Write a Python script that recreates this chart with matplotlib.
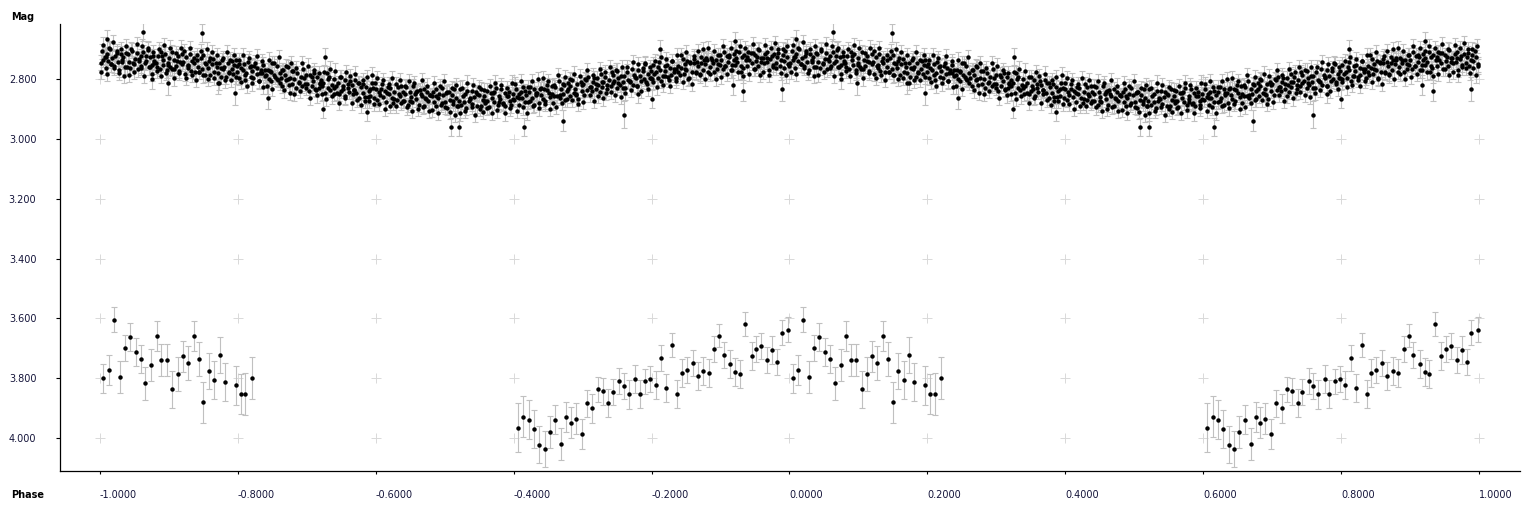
import numpy as np
import matplotlib.pyplot as plt

# bright, well sampled photometry (phase 0..1), drawn at phase and phase-1
band_phase = [
    0.001, 0.003, 0.005, 0.007, 0.008, 0.010, 0.012, 0.014, 0.016, 0.018, 0.021, 0.022, 0.024, 0.026, 0.028, 0.030, 0.032, 0.034, 0.036, 0.038,
    0.040, 0.042, 0.044, 0.046, 0.049, 0.051, 0.053, 0.055, 0.057, 0.059, 0.060, 0.063, 0.065, 0.067, 0.069, 0.071, 0.073, 0.075, 0.077, 0.079,
    0.081, 0.082, 0.084, 0.087, 0.089, 0.091, 0.092, 0.094, 0.097, 0.099, 0.100, 0.102, 0.105, 0.107, 0.108, 0.110, 0.113, 0.115, 0.116, 0.119,
    0.121, 0.123, 0.125, 0.127, 0.128, 0.130, 0.132, 0.134, 0.136, 0.138, 0.141, 0.142, 0.144, 0.146, 0.148, 0.150, 0.152, 0.154, 0.156, 0.158,
    0.160, 0.162, 0.164, 0.166, 0.169, 0.171, 0.173, 0.175, 0.177, 0.179, 0.180, 0.183, 0.185, 0.187, 0.189, 0.191, 0.193, 0.195, 0.197, 0.199,
    0.201, 0.202, 0.204, 0.207, 0.209, 0.211, 0.212, 0.214, 0.217, 0.219, 0.220, 0.222, 0.225, 0.227, 0.228, 0.230, 0.233, 0.235, 0.236, 0.239,
    0.241, 0.243, 0.245, 0.247, 0.248, 0.250, 0.252, 0.254, 0.256, 0.258, 0.261, 0.262, 0.264, 0.266, 0.268, 0.270, 0.272, 0.274, 0.276, 0.278,
    0.280, 0.282, 0.284, 0.286, 0.289, 0.291, 0.293, 0.295, 0.297, 0.299, 0.300, 0.303, 0.305, 0.307, 0.309, 0.311, 0.313, 0.315, 0.317, 0.319,
    0.321, 0.322, 0.324, 0.327, 0.329, 0.331, 0.332, 0.334, 0.337, 0.339, 0.340, 0.342, 0.345, 0.347, 0.348, 0.350, 0.353, 0.355, 0.356, 0.359,
    0.361, 0.363, 0.365, 0.367, 0.368, 0.370, 0.372, 0.374, 0.376, 0.378, 0.381, 0.382, 0.384, 0.386, 0.388, 0.390, 0.392, 0.394, 0.396, 0.398,
    0.400, 0.402, 0.404, 0.406, 0.409, 0.411, 0.413, 0.415, 0.417, 0.419, 0.420, 0.423, 0.425, 0.427, 0.429, 0.431, 0.433, 0.435, 0.437, 0.439,
    0.441, 0.442, 0.444, 0.447, 0.449, 0.451, 0.452, 0.454, 0.457, 0.459, 0.460, 0.462, 0.465, 0.467, 0.468, 0.470, 0.473, 0.475, 0.476, 0.479,
    0.481, 0.483, 0.485, 0.487, 0.488, 0.490, 0.492, 0.494, 0.496, 0.498, 0.501, 0.502, 0.504, 0.506, 0.508, 0.510, 0.512, 0.514, 0.516, 0.518,
    0.520, 0.522, 0.524, 0.526, 0.529, 0.531, 0.533, 0.535, 0.537, 0.539, 0.540, 0.543, 0.545, 0.547, 0.549, 0.551, 0.553, 0.555, 0.557, 0.559,
    0.561, 0.562, 0.564, 0.567, 0.569, 0.571, 0.572, 0.574, 0.577, 0.579, 0.580, 0.582, 0.585, 0.587, 0.588, 0.590, 0.593, 0.595, 0.596, 0.599,
    0.601, 0.603, 0.605, 0.607, 0.608, 0.610, 0.612, 0.614, 0.616, 0.618, 0.621, 0.622, 0.624, 0.626, 0.628, 0.630, 0.632, 0.634, 0.636, 0.638,
    0.640, 0.642, 0.644, 0.646, 0.649, 0.651, 0.653, 0.655, 0.657, 0.659, 0.660, 0.663, 0.665, 0.667, 0.669, 0.671, 0.673, 0.675, 0.677, 0.679,
    0.681, 0.682, 0.684, 0.687, 0.689, 0.691, 0.692, 0.694, 0.697, 0.699, 0.700, 0.702, 0.705, 0.707, 0.708, 0.710, 0.713, 0.715, 0.716, 0.719,
    0.721, 0.723, 0.725, 0.727, 0.728, 0.730, 0.732, 0.734, 0.736, 0.738, 0.741, 0.742, 0.744, 0.746, 0.748, 0.750, 0.752, 0.754, 0.756, 0.758,
    0.760, 0.762, 0.764, 0.766, 0.769, 0.771, 0.773, 0.775, 0.777, 0.779, 0.780, 0.783, 0.785, 0.787, 0.789, 0.791, 0.793, 0.795, 0.797, 0.799,
    0.801, 0.802, 0.804, 0.807, 0.809, 0.811, 0.812, 0.814, 0.817, 0.819, 0.820, 0.822, 0.825, 0.827, 0.828, 0.830, 0.833, 0.835, 0.836, 0.839,
    0.841, 0.843, 0.845, 0.847, 0.848, 0.850, 0.852, 0.854, 0.856, 0.858, 0.861, 0.862, 0.864, 0.866, 0.868, 0.870, 0.872, 0.874, 0.876, 0.878,
    0.880, 0.882, 0.884, 0.886, 0.889, 0.891, 0.893, 0.895, 0.897, 0.899, 0.900, 0.903, 0.905, 0.907, 0.909, 0.911, 0.913, 0.915, 0.917, 0.919,
    0.921, 0.922, 0.924, 0.927, 0.929, 0.931, 0.932, 0.934, 0.937, 0.939, 0.940, 0.942, 0.945, 0.947, 0.948, 0.950, 0.953, 0.955, 0.956, 0.959,
    0.961, 0.963, 0.965, 0.967, 0.968, 0.970, 0.972, 0.974, 0.976, 0.978, 0.981, 0.982, 0.984, 0.986, 0.988, 0.990, 0.992, 0.994, 0.996, 0.998,
]
band_mag = [
    2.745, 2.708, 2.736, 2.725, 2.763, 2.718, 2.739, 2.701, 2.751, 2.729, 2.756, 2.723, 2.706, 2.743, 2.769, 2.715, 2.735, 2.728, 2.760, 2.713,
    2.717, 2.742, 2.763, 2.705, 2.749, 2.732, 2.713, 2.768, 2.740, 2.723, 2.756, 2.710, 2.747, 2.739, 2.702, 2.761, 2.728, 2.753, 2.723, 2.741,
    2.745, 2.760, 2.724, 2.767, 2.711, 2.738, 2.753, 2.716, 2.771, 2.748, 2.731, 2.761, 2.711, 2.766, 2.737, 2.755, 2.724, 2.773, 2.743, 2.718,
    2.742, 2.782, 2.728, 2.758, 2.764, 2.718, 2.773, 2.739, 2.748, 2.775, 2.738, 2.759, 2.775, 2.731, 2.767, 2.719, 2.785, 2.750, 2.763, 2.740,
    2.785, 2.751, 2.732, 2.776, 2.761, 2.781, 2.746, 2.794, 2.737, 2.767, 2.759, 2.794, 2.746, 2.778, 2.735, 2.768, 2.783, 2.753, 2.738, 2.775,
    2.749, 2.796, 2.764, 2.771, 2.751, 2.805, 2.779, 2.742, 2.759, 2.792, 2.773, 2.795, 2.745, 2.783, 2.762, 2.807, 2.769, 2.780, 2.752, 2.789,
    2.787, 2.769, 2.799, 2.774, 2.807, 2.748, 2.785, 2.793, 2.756, 2.802, 2.779, 2.796, 2.824, 2.769, 2.788, 2.805, 2.761, 2.819, 2.798, 2.773,
    2.774, 2.799, 2.829, 2.780, 2.811, 2.793, 2.822, 2.767, 2.817, 2.787, 2.817, 2.840, 2.785, 2.822, 2.807, 2.780, 2.836, 2.793, 2.829, 2.814,
    2.802, 2.825, 2.812, 2.847, 2.781, 2.829, 2.793, 2.837, 2.821, 2.800, 2.851, 2.824, 2.815, 2.849, 2.794, 2.840, 2.834, 2.804, 2.858, 2.818,
    2.843, 2.806, 2.821, 2.851, 2.836, 2.803, 2.846, 2.814, 2.862, 2.827, 2.847, 2.817, 2.874, 2.826, 2.861, 2.841, 2.856, 2.812, 2.831, 2.865,
    2.834, 2.871, 2.843, 2.854, 2.816, 2.861, 2.840, 2.878, 2.828, 2.850, 2.829, 2.862, 2.879, 2.842, 2.816, 2.870, 2.850, 2.857, 2.825, 2.872,
    2.874, 2.849, 2.828, 2.886, 2.842, 2.859, 2.878, 2.823, 2.851, 2.868, 2.840, 2.886, 2.849, 2.857, 2.894, 2.835, 2.868, 2.843, 2.873, 2.855,
    2.857, 2.842, 2.878, 2.835, 2.891, 2.864, 2.849, 2.886, 2.831, 2.854, 2.877, 2.847, 2.897, 2.842, 2.871, 2.853, 2.884, 2.835, 2.865, 2.890,
    2.872, 2.832, 2.886, 2.856, 2.850, 2.896, 2.841, 2.875, 2.866, 2.839, 2.882, 2.861, 2.845, 2.889, 2.853, 2.901, 2.835, 2.870, 2.857, 2.880,
    2.839, 2.873, 2.892, 2.848, 2.863, 2.843, 2.878, 2.830, 2.887, 2.857, 2.867, 2.832, 2.880, 2.848, 2.891, 2.858, 2.843, 2.873, 2.888, 2.851,
    2.870, 2.833, 2.861, 2.850, 2.888, 2.843, 2.864, 2.826, 2.876, 2.854, 2.876, 2.843, 2.826, 2.863, 2.889, 2.835, 2.855, 2.848, 2.880, 2.833,
    2.853, 2.868, 2.832, 2.875, 2.819, 2.846, 2.861, 2.824, 2.879, 2.856, 2.827, 2.857, 2.807, 2.862, 2.833, 2.851, 2.820, 2.869, 2.839, 2.814,
    2.857, 2.823, 2.804, 2.848, 2.833, 2.853, 2.818, 2.866, 2.809, 2.839, 2.817, 2.852, 2.804, 2.836, 2.793, 2.826, 2.841, 2.811, 2.796, 2.833,
    2.796, 2.821, 2.842, 2.784, 2.828, 2.811, 2.792, 2.847, 2.819, 2.802, 2.824, 2.778, 2.815, 2.807, 2.770, 2.829, 2.796, 2.821, 2.791, 2.809,
    2.789, 2.829, 2.775, 2.805, 2.811, 2.765, 2.820, 2.786, 2.795, 2.822, 2.770, 2.791, 2.807, 2.763, 2.799, 2.751, 2.817, 2.782, 2.795, 2.772,
    2.799, 2.752, 2.784, 2.777, 2.797, 2.743, 2.769, 2.806, 2.789, 2.756, 2.774, 2.752, 2.802, 2.764, 2.785, 2.740, 2.778, 2.767, 2.795, 2.758,
    2.788, 2.763, 2.733, 2.782, 2.751, 2.769, 2.740, 2.795, 2.745, 2.775, 2.747, 2.724, 2.779, 2.742, 2.757, 2.784, 2.728, 2.771, 2.735, 2.750,
    2.738, 2.775, 2.760, 2.730, 2.745, 2.778, 2.735, 2.767, 2.719, 2.754, 2.736, 2.766, 2.709, 2.757, 2.722, 2.742, 2.727, 2.771, 2.752, 2.718,
    2.754, 2.731, 2.744, 2.709, 2.775, 2.727, 2.763, 2.719, 2.735, 2.756, 2.710, 2.737, 2.746, 2.712, 2.767, 2.721, 2.727, 2.757, 2.703, 2.743,
    2.730, 2.748, 2.718, 2.743, 2.710, 2.769, 2.732, 2.724, 2.761, 2.715, 2.745, 2.728, 2.700, 2.755, 2.736, 2.719, 2.763, 2.705, 2.726, 2.751,
]

# second night of the bright set, a little noisier
band2_phase = [
    0.002, 0.005, 0.008, 0.010, 0.013, 0.016, 0.019, 0.021, 0.024, 0.027, 0.030, 0.032, 0.035, 0.037, 0.039,
    0.042, 0.045, 0.048, 0.050, 0.053, 0.056, 0.059, 0.061, 0.064, 0.067, 0.070, 0.072, 0.075, 0.077, 0.079,
    0.082, 0.085, 0.088, 0.090, 0.093, 0.096, 0.099, 0.101, 0.104, 0.107, 0.110, 0.112, 0.115, 0.117, 0.119,
    0.122, 0.125, 0.128, 0.130, 0.133, 0.136, 0.139, 0.141, 0.144, 0.147, 0.150, 0.152, 0.155, 0.157, 0.159,
    0.162, 0.165, 0.168, 0.170, 0.173, 0.176, 0.179, 0.181, 0.184, 0.187, 0.190, 0.192, 0.195, 0.197, 0.199,
    0.202, 0.205, 0.208, 0.210, 0.213, 0.216, 0.219, 0.221, 0.224, 0.227, 0.230, 0.232, 0.235, 0.237, 0.239,
    0.242, 0.245, 0.248, 0.250, 0.253, 0.256, 0.259, 0.261, 0.264, 0.267, 0.270, 0.272, 0.275, 0.277, 0.279,
    0.282, 0.285, 0.288, 0.290, 0.293, 0.296, 0.299, 0.301, 0.304, 0.307, 0.310, 0.312, 0.315, 0.317, 0.319,
    0.322, 0.325, 0.328, 0.330, 0.333, 0.336, 0.339, 0.341, 0.344, 0.347, 0.350, 0.352, 0.355, 0.357, 0.359,
    0.362, 0.365, 0.368, 0.370, 0.373, 0.376, 0.379, 0.381, 0.384, 0.387, 0.390, 0.392, 0.395, 0.397, 0.399,
    0.402, 0.405, 0.408, 0.410, 0.413, 0.416, 0.419, 0.421, 0.424, 0.427, 0.430, 0.432, 0.435, 0.437, 0.439,
    0.442, 0.445, 0.448, 0.450, 0.453, 0.456, 0.459, 0.461, 0.464, 0.467, 0.470, 0.472, 0.475, 0.477, 0.479,
    0.482, 0.485, 0.488, 0.490, 0.493, 0.496, 0.499, 0.501, 0.504, 0.507, 0.510, 0.512, 0.515, 0.517, 0.519,
    0.522, 0.525, 0.528, 0.530, 0.533, 0.536, 0.539, 0.541, 0.544, 0.547, 0.550, 0.552, 0.555, 0.557, 0.559,
    0.562, 0.565, 0.568, 0.570, 0.573, 0.576, 0.579, 0.581, 0.584, 0.587, 0.590, 0.592, 0.595, 0.597, 0.599,
    0.602, 0.605, 0.608, 0.610, 0.613, 0.616, 0.619, 0.621, 0.624, 0.627, 0.630, 0.632, 0.635, 0.637, 0.639,
    0.642, 0.645, 0.648, 0.650, 0.653, 0.656, 0.659, 0.661, 0.664, 0.667, 0.670, 0.672, 0.675, 0.677, 0.679,
    0.682, 0.685, 0.688, 0.690, 0.693, 0.696, 0.699, 0.701, 0.704, 0.707, 0.710, 0.712, 0.715, 0.717, 0.719,
    0.722, 0.725, 0.728, 0.730, 0.733, 0.736, 0.739, 0.741, 0.744, 0.747, 0.750, 0.752, 0.755, 0.757, 0.759,
    0.762, 0.765, 0.768, 0.770, 0.773, 0.776, 0.779, 0.781, 0.784, 0.787, 0.790, 0.792, 0.795, 0.797, 0.799,
    0.802, 0.805, 0.808, 0.810, 0.813, 0.816, 0.819, 0.821, 0.824, 0.827, 0.830, 0.832, 0.835, 0.837, 0.839,
    0.842, 0.845, 0.848, 0.850, 0.853, 0.856, 0.859, 0.861, 0.864, 0.867, 0.870, 0.872, 0.875, 0.877, 0.879,
    0.882, 0.885, 0.888, 0.890, 0.893, 0.896, 0.899, 0.901, 0.904, 0.907, 0.910, 0.912, 0.915, 0.917, 0.919,
    0.922, 0.925, 0.928, 0.930, 0.933, 0.936, 0.939, 0.941, 0.944, 0.947, 0.950, 0.952, 0.955, 0.957, 0.959,
    0.962, 0.965, 0.968, 0.970, 0.973, 0.976, 0.979, 0.981, 0.984, 0.987, 0.990, 0.992, 0.995, 0.997, 0.999,
]
band2_mag = [
    2.775, 2.685, 2.728, 2.784, 2.696, 2.751, 2.678, 2.763, 2.714, 2.781, 2.701, 2.742, 2.789, 2.690, 2.759,
    2.785, 2.699, 2.747, 2.776, 2.682, 2.733, 2.764, 2.690, 2.791, 2.722, 2.698, 2.761, 2.783, 2.709, 2.745,
    2.773, 2.701, 2.790, 2.723, 2.688, 2.781, 2.752, 2.695, 2.766, 2.798, 2.713, 2.741, 2.781, 2.695, 2.750,
    2.707, 2.797, 2.754, 2.698, 2.786, 2.731, 2.804, 2.719, 2.775, 2.708, 2.788, 2.747, 2.700, 2.799, 2.730,
    2.710, 2.796, 2.748, 2.719, 2.813, 2.762, 2.731, 2.805, 2.711, 2.780, 2.804, 2.741, 2.719, 2.793, 2.757,
    2.737, 2.809, 2.720, 2.787, 2.822, 2.729, 2.758, 2.815, 2.755, 2.723, 2.808, 2.780, 2.740, 2.826, 2.771,
    2.825, 2.735, 2.778, 2.834, 2.746, 2.801, 2.728, 2.813, 2.771, 2.838, 2.758, 2.799, 2.846, 2.747, 2.816,
    2.850, 2.764, 2.812, 2.841, 2.747, 2.798, 2.829, 2.755, 2.863, 2.794, 2.770, 2.833, 2.855, 2.781, 2.817,
    2.850, 2.778, 2.867, 2.800, 2.765, 2.858, 2.829, 2.772, 2.847, 2.879, 2.794, 2.822, 2.862, 2.776, 2.831,
    2.791, 2.881, 2.838, 2.782, 2.870, 2.815, 2.888, 2.803, 2.860, 2.793, 2.873, 2.832, 2.785, 2.884, 2.815,
    2.796, 2.882, 2.834, 2.805, 2.899, 2.848, 2.817, 2.891, 2.797, 2.866, 2.890, 2.827, 2.805, 2.879, 2.843,
    2.823, 2.895, 2.806, 2.873, 2.908, 2.815, 2.844, 2.901, 2.837, 2.805, 2.890, 2.862, 2.822, 2.908, 2.853,
    2.904, 2.814, 2.857, 2.913, 2.825, 2.880, 2.807, 2.892, 2.844, 2.911, 2.831, 2.872, 2.919, 2.820, 2.889,
    2.915, 2.829, 2.877, 2.906, 2.812, 2.863, 2.894, 2.820, 2.919, 2.850, 2.826, 2.889, 2.911, 2.837, 2.873,
    2.897, 2.825, 2.914, 2.847, 2.812, 2.905, 2.876, 2.819, 2.883, 2.915, 2.830, 2.858, 2.898, 2.812, 2.867,
    2.816, 2.906, 2.863, 2.807, 2.895, 2.840, 2.913, 2.828, 2.874, 2.807, 2.887, 2.846, 2.799, 2.898, 2.829,
    2.798, 2.884, 2.836, 2.807, 2.901, 2.850, 2.819, 2.893, 2.786, 2.855, 2.879, 2.816, 2.794, 2.868, 2.832,
    2.799, 2.871, 2.782, 2.849, 2.884, 2.791, 2.820, 2.877, 2.801, 2.769, 2.854, 2.826, 2.786, 2.872, 2.817,
    2.856, 2.766, 2.809, 2.865, 2.777, 2.832, 2.759, 2.844, 2.785, 2.852, 2.772, 2.813, 2.860, 2.761, 2.830,
    2.846, 2.760, 2.808, 2.837, 2.743, 2.794, 2.825, 2.751, 2.841, 2.772, 2.748, 2.811, 2.833, 2.759, 2.795,
    2.811, 2.739, 2.828, 2.761, 2.726, 2.819, 2.790, 2.733, 2.792, 2.824, 2.739, 2.767, 2.807, 2.721, 2.776,
    2.720, 2.810, 2.767, 2.711, 2.799, 2.744, 2.817, 2.732, 2.775, 2.708, 2.788, 2.747, 2.700, 2.799, 2.730,
    2.698, 2.784, 2.736, 2.707, 2.801, 2.750, 2.719, 2.793, 2.689, 2.758, 2.782, 2.719, 2.697, 2.771, 2.735,
    2.706, 2.778, 2.689, 2.756, 2.791, 2.698, 2.727, 2.784, 2.714, 2.682, 2.767, 2.739, 2.699, 2.785, 2.730,
    2.776, 2.686, 2.729, 2.785, 2.697, 2.752, 2.679, 2.764, 2.713, 2.780, 2.700, 2.741, 2.788, 2.689, 2.758,
]
band_err = 0.024

# stray points of the bright set with larger error bars
wide_phase = [0.010, 0.063, 0.075, 0.098, 0.148, 0.171, 0.196, 0.244, 0.324, 0.326, 0.387, 0.509,
              0.521, 0.615, 0.672, 0.760, 0.780, 0.800, 0.812, 0.918, 0.921, 0.933, 0.989]
wide_mag = [2.666, 2.643, 2.800, 2.812, 2.646, 2.814, 2.848, 2.865, 2.900, 2.726, 2.909, 2.960,
            2.960, 2.960, 2.940, 2.920, 2.850, 2.868, 2.700, 2.820, 2.672, 2.839, 2.833]
wide_err = [0.030, 0.030, 0.035, 0.040, 0.030, 0.037, 0.040, 0.035, 0.030, 0.030, 0.030, 0.030,
            0.030, 0.030, 0.035, 0.045, 0.030, 0.030, 0.030, 0.035, 0.030, 0.035, 0.040]

# faint set
low_phase = [0.005, 0.013, 0.020, 0.029, 0.036, 0.043, 0.052, 0.059, 0.066, 0.074, 0.082, 0.089,
             0.097, 0.105, 0.113, 0.120, 0.127, 0.136, 0.143, 0.150, 0.158, 0.166, 0.174, 0.181,
             0.197, 0.204, 0.211, 0.220,
             0.606, 0.614, 0.622, 0.629, 0.637, 0.645, 0.652, 0.660, 0.669, 0.676, 0.683, 0.690,
             0.699, 0.706, 0.714, 0.722, 0.729, 0.737, 0.744, 0.753, 0.760, 0.767, 0.776, 0.783,
             0.791, 0.798, 0.806, 0.814, 0.821, 0.830, 0.837, 0.844, 0.851, 0.860, 0.867, 0.875,
             0.883, 0.891, 0.898, 0.905, 0.914, 0.921, 0.928, 0.936, 0.945, 0.952, 0.959, 0.968,
             0.975, 0.982, 0.989, 0.998]
low_mag = [3.800, 3.773, 3.604, 3.797, 3.699, 3.662, 3.712, 3.736, 3.817, 3.756, 3.658, 3.739,
           3.739, 3.837, 3.787, 3.726, 3.749, 3.658, 3.736, 3.881, 3.776, 3.807, 3.722, 3.813,
           3.824, 3.854, 3.854, 3.800,
           3.965, 3.928, 3.938, 3.969, 4.022, 4.036, 3.979, 3.938, 4.019, 3.931, 3.948, 3.935,
           3.985, 3.884, 3.901, 3.837, 3.844, 3.884, 3.847, 3.810, 3.827, 3.854, 3.803, 3.854,
           3.810, 3.803, 3.824, 3.733, 3.834, 3.689, 3.854, 3.783, 3.773, 3.749, 3.793, 3.776,
           3.783, 3.702, 3.658, 3.722, 3.753, 3.780, 3.787, 3.618, 3.726, 3.702, 3.692, 3.739,
           3.706, 3.746, 3.648, 3.638]
low_err = [0.048, 0.051, 0.043, 0.053, 0.044, 0.046, 0.046, 0.048, 0.056, 0.054, 0.050, 0.054,
           0.054, 0.061, 0.057, 0.052, 0.057, 0.050, 0.057, 0.067, 0.060, 0.064, 0.059, 0.064,
           0.064, 0.067, 0.070, 0.071,
           0.081, 0.070, 0.064, 0.063, 0.061, 0.061, 0.053, 0.050, 0.054, 0.050, 0.051, 0.051,
           0.050, 0.046, 0.047, 0.042, 0.044, 0.047, 0.044, 0.043, 0.043, 0.048, 0.047, 0.047,
           0.042, 0.043, 0.047, 0.043, 0.047, 0.040, 0.047, 0.047, 0.044, 0.043, 0.047, 0.048,
           0.047, 0.043, 0.039, 0.043, 0.047, 0.047, 0.047, 0.040, 0.047, 0.044, 0.044, 0.044,
           0.047, 0.044, 0.042, 0.042]

x_ticks = [-1.0, -0.8, -0.6, -0.4, -0.2, 0.0, 0.2, 0.4, 0.6, 0.8, 1.0]
y_ticks = [2.8, 3.0, 3.2, 3.4, 3.6, 3.8, 4.0]


def folded(phase, vals):
    # every observation is drawn twice: at phase-1 and at phase
    p = np.asarray(phase)
    v = np.asarray(vals)
    return np.concatenate([p - 1, p]), np.concatenate([v, v])


fig = plt.figure(figsize=(15.36, 5.12), dpi=100)
ax = fig.add_axes([60 / 1536, 1 - 471 / 512, 1460 / 1536, 447 / 512])

# light "+" grid at the tick crossings
gx, gy = np.meshgrid(x_ticks, y_ticks)
ax.plot(gx.ravel(), gy.ravel(), ls='none', marker='+', ms=6.5, mew=0.7, color='#d9d9d9', zorder=0)

err_kw = dict(fmt='none', ecolor='#c0c0c0', elinewidth=0.8, capsize=2, capthick=0.8, zorder=1)
series = [(band_phase, band_mag, np.full(len(band_mag), band_err)),
          (band2_phase, band2_mag, np.full(len(band2_mag), band_err)),
          (wide_phase, wide_mag, wide_err),
          (low_phase, low_mag, low_err)]
for ph, mg, er in series:
    x, y = folded(ph, mg)
    _, e = folded(ph, er)
    ax.errorbar(x, y, yerr=e, **err_kw)
for ph, mg, er in series:
    x, y = folded(ph, mg)
    ax.plot(x, y, ls='none', marker='o', ms=3.2, mew=0, color='black', zorder=2)

ax.set_xlim(-1.058, 1.0595)
ax.set_ylim(4.110, 2.6162)
ax.set_xticks(x_ticks)
ax.set_yticks(y_ticks)
ax.set_xticklabels(['%.4f' % t for t in x_ticks], ha='left')
ax.set_yticklabels(['%.3f' % t for t in y_ticks])
ax.tick_params(axis='x', length=2.5, width=0.8, pad=11, labelsize=7, labelcolor='#14143a')
ax.tick_params(axis='y', length=3, width=0.8, pad=14, labelsize=7, labelcolor='#14143a')
ax.spines['top'].set_visible(False)
ax.spines['right'].set_visible(False)
ax.spines['left'].set_linewidth(0.9)
ax.spines['bottom'].set_linewidth(0.9)

fig.text(11 / 1536, 1 - 17 / 512, 'Mag', fontsize=7, fontweight='bold', va='center', ha='left')
fig.text(11 / 1536, 1 - 495 / 512, 'Phase', fontsize=7, fontweight='bold', va='center', ha='left')

fig.savefig('out.png', dpi=100)
